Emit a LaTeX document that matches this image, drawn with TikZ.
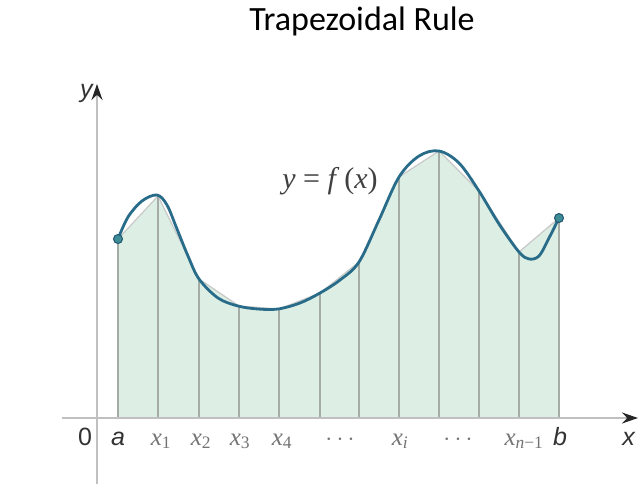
\documentclass[tikz,border=0pt]{standalone}
\usepackage{fontspec}
\setmainfont{Liberation Serif}
\newfontfamily\titlefont{Carlito}
\newfontfamily\axisfont{Liberation Sans}
\usetikzlibrary{arrows.meta}

\definecolor{trapgreen}{RGB}{221,239,228}
\definecolor{curveblue}{RGB}{40,108,138}
\definecolor{dotblue}{RGB}{62,140,150}
\definecolor{axisgray}{RGB}{192,192,192}
\definecolor{stripgray}{RGB}{165,172,165}
\definecolor{chordgray}{RGB}{200,200,200}

\newcommand{\xsub}[1]{\textit{x}\textsubscript{#1}}

\begin{document}
\begin{tikzpicture}[
    x=1pt, y=-1pt,
    every node/.style={inner sep=0pt},
    axis/.style={draw=axisgray, line width=1.8pt, -{Stealth[length=16pt,width=11pt,black!85]}},
    strip/.style={draw=stripgray, line width=1.3pt},
    chord/.style={draw=chordgray, line width=1.2pt},
    curve/.style={draw=curveblue, line width=2.8pt, line join=round},
    enddot/.style={circle, draw=curveblue!80!black, line width=1pt, fill=dotblue, minimum size=9pt},
    axislabel/.style={font=\axisfont\fontsize{25}{25}\selectfont, text=black!80, anchor=base},
    ticklabel/.style={font=\fontsize{25}{25}\selectfont, text=black!55, anchor=base},
    title/.style={font=\titlefont\fontsize{34}{34}\selectfont, text=black}
]
\useasboundingbox (0,0) rectangle (640,493);

% Title
\node[title] (title) at (362,21) {Trapezoidal Rule};

% Points of the trapezoids
\coordinate (p0) at (118,239);
\coordinate (p1) at (158,196);
\coordinate (p2) at (199,279);
\coordinate (p3) at (239,306);
\coordinate (p4) at (279,309);
\coordinate (p5) at (320,293);
\coordinate (p6) at (359,262);
\coordinate (p7) at (399,177);
\coordinate (p8) at (439,151);
\coordinate (p9) at (479,191);
\coordinate (p10) at (519,252);
\coordinate (p11) at (559,218);

\coordinate (q0) at (118,418);
\coordinate (q1) at (158,418);
\coordinate (q2) at (199,418);
\coordinate (q3) at (239,418);
\coordinate (q4) at (279,418);
\coordinate (q5) at (320,418);
\coordinate (q6) at (359,418);
\coordinate (q7) at (399,418);
\coordinate (q8) at (439,418);
\coordinate (q9) at (479,418);
\coordinate (q10) at (519,418);
\coordinate (q11) at (559,418);

% Trapezoids
\fill[trapgreen] (q0) -- (p0) -- (p1) -- (p2) -- (p3) -- (p4) -- (p5) -- (p6)
    -- (p7) -- (p8) -- (p9) -- (p10) -- (p11) -- (q11) -- cycle;
\draw[chord] (p0) -- (p1) -- (p2) -- (p3) -- (p4) -- (p5) -- (p6)
    -- (p7) -- (p8) -- (p9) -- (p10) -- (p11);
\draw[strip] (q0) -- (p0);
\draw[strip] (q1) -- (p1);
\draw[strip] (q2) -- (p2);
\draw[strip] (q3) -- (p3);
\draw[strip] (q4) -- (p4);
\draw[strip] (q5) -- (p5);
\draw[strip] (q6) -- (p6);
\draw[strip] (q7) -- (p7);
\draw[strip] (q8) -- (p8);
\draw[strip] (q9) -- (p9);
\draw[strip] (q10) -- (p10);
\draw[strip] (q11) -- (p11);

% Axes
\coordinate (xfrom) at (62,418);
\coordinate (xto) at (638,418);
\coordinate (yfrom) at (97,484);
\coordinate (yto) at (97,84);
\draw[axis] (xfrom) -- (xto);
\draw[axis] (yfrom) -- (yto);

% Curve
\draw[curve] plot[smooth, tension=0.55] coordinates {
    (118,239) (128,217) (142,201) (157,195) (167,205) (177,229) (188,256)
    (199,279) (218,298) (238,306) (258,309) (278,309) (300,303) (320,293)
    (340,280) (359,262) (379,220) (399,177) (419,156) (439,151) (459,163)
    (479,191) (499,224) (519,252) (529,259) (539,256) (548,240) (559,218)};
\node[enddot] (dota) at (p0) {};
\node[enddot] (dotb) at (p11) {};

% Labels
\node[font=\fontsize{30}{30}\selectfont, text=black!75] (fxlabel) at (330,181)
    {\textit{y} = \textit{f}\,(\textit{x})};
\node[axislabel] (ylabel) at (87,97) {\textit{y}};
\node[axislabel] (zero) at (85,445) {0};
\node[axislabel] (alabel) at (118,445) {\textit{a}};
\node[ticklabel] (x1label) at (161,445) {\xsub{1}};
\node[ticklabel] (x2label) at (201,445) {\xsub{2}};
\node[ticklabel] (x3label) at (240,445) {\xsub{3}};
\node[ticklabel] (x4label) at (282,445) {\xsub{4}};
\node[ticklabel] (dots1) at (340,445) {$\cdots$};
\node[ticklabel] (xilabel) at (400,445) {\xsub{\textit{i}}};
\node[ticklabel] (dots2) at (458,445) {$\cdots$};
\node[ticklabel] (xn1label) at (524,445) {\xsub{\textit{n}−1}};
\node[axislabel] (blabel) at (560,445) {\textit{b}};
\node[axislabel] (xlabel) at (629,445) {\textit{x}};

\end{tikzpicture}
\end{document}
